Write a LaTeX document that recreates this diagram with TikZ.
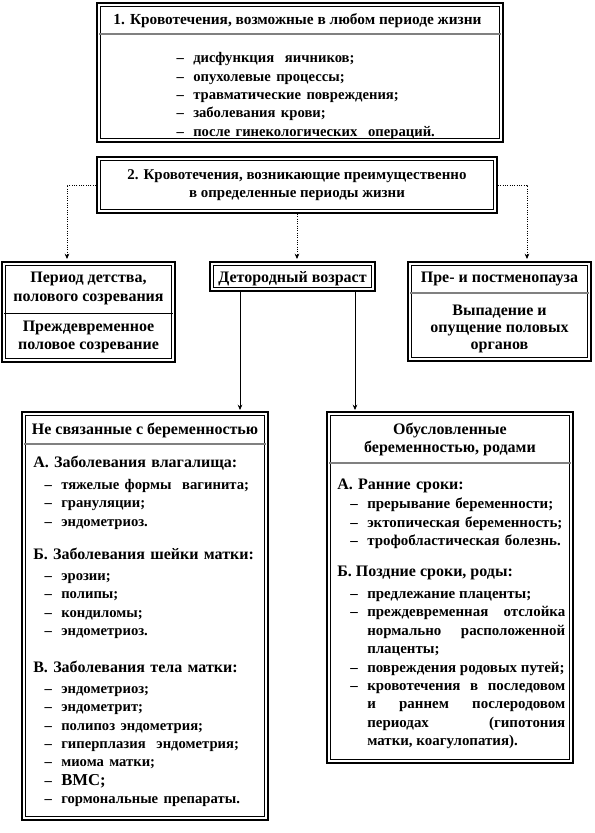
\documentclass[tikz,border=0pt]{standalone}
\usepackage{fontspec}
\setmainfont{Liberation Serif}
\usetikzlibrary{positioning,fit,arrows.meta}
\setlength{\parskip}{0pt}
\setlength{\parindent}{0pt}
\hyphenpenalty=10000
\exhyphenpenalty=10000
\tolerance=9999

\newcommand{\itemsize}{\fontsize{11}{13.8}\selectfont}
\newcommand{\headsize}{\fontsize{11.5}{13.8}\selectfont}
\newcommand{\pregsize}{\fontsize{11.2}{13.8}\selectfont}

\newenvironment{dashlist}[1]{%
  \begin{list}{--}{%
    \setlength{\leftmargin}{#1}%
    \setlength{\labelsep}{7pt}%
    \setlength{\labelwidth}{\dimexpr#1-7pt\relax}%
    \setlength{\topsep}{0pt}%
    \setlength{\partopsep}{0pt}%
    \setlength{\parsep}{0pt}%
    \setlength{\itemsep}{0pt}%
    \renewcommand{\makelabel}[1]{\strut\hfil##1}}}%
  {\end{list}}

\tikzset{
  frame/.style={draw, line width=1.5pt, inner sep=0pt,
    path picture={\draw[line width=0.6pt]
      ([shift={(2.6pt,-2.6pt)}]path picture bounding box.north west) rectangle
      ([shift={(-2.6pt,2.6pt)}]path picture bounding box.south east);}},
  graysep/.style={draw=gray, line width=1.5pt, shorten <=2.6pt, shorten >=2.6pt},
  blacksep/.style={draw, line width=0.75pt, shorten <=2.6pt, shorten >=2.6pt},
  dotarrow/.style={densely dotted, line width=0.75pt, -{Stealth[length=4pt,width=3.5pt]}},
  solarrow/.style={line width=0.6pt, -{Stealth[length=4pt,width=3.5pt]}},
  body/.style={anchor=north west, align=left},
}

\begin{document}
\begin{tikzpicture}[x=0.75pt, y=-0.75pt,
    every node/.style={font=\bfseries\fontsize{12}{13.8}\selectfont, inner sep=0pt}]
    \useasboundingbox (0,0) rectangle (594,833);

    % Any period of life
    \node[frame, fit={(97,3) (503,142)}] (all) {};
    \node[anchor=base] (allT) at (297.5,24) {\headsize 1. Кровотечения, возможные в любом периоде жизни};
    \draw[graysep] ([yshift=-24pt]all.north west) -- ([yshift=-24pt]all.north east);
    \node[body, text width=250pt] (allB) at (175,44) {\itemsize
      \begin{dashlist}{13.5pt}
        \item дисфункция\ \ яичников;
        \item опухолевые процессы;
        \item травматические повреждения;
        \item заболевания крови;
        \item после гинекологических\ \ операций.
      \end{dashlist}};

    % Certain periods of life
    \node[frame, fit={(97,157) (497,213)}] (per) {};
    \node[anchor=north, align=center, font=\bfseries\fontsize{11.2}{13.8}\selectfont] (perT) at (297,166)
      {\strut 2. Кровотечения, возникающие преимущественно\\в определенные периоды жизни};

    % Periods (middle row)
    \node[frame, fit={(2,262) (175,362)}] (child) {};
    \node[anchor=north, align=center] (childT) at (88.5,269) {\strut Период детства,\\[1pt]полового созревания};
    \draw[blacksep] ([yshift=-39pt]child.north west) -- ([yshift=-39pt]child.north east);
    \node[anchor=north, align=center] (childB) at (88.5,318) {\strut Преждевременное\\половое созревание};

    \node[frame, fit={(210,262) (375,291)}] (repr) {};
    \node[anchor=base] (reprT) at (292.5,282) {Детородный возраст};

    \node[frame, fit={(408,262) (591,361)}] (meno) {};
    \node[anchor=base] (menoT) at (499.5,282) {Пре-\ и постменопауза};
    \draw[graysep] ([yshift=-24pt]meno.north west) -- ([yshift=-24pt]meno.north east);
    \node[anchor=north, align=center] (menoB) at (499.5,302) {\strut Выпадение и\\[-1pt]опущение половых\\[-1pt]органов};

    % Not related to pregnancy
    \node[frame, fit={(22,412) (268,820)}] (nopreg) {};
    \node[anchor=base] (nopregT) at (145,434) {Не связанные с беременностью};
    \draw[graysep] ([yshift=-24.75pt]nopreg.north west) -- ([yshift=-24.75pt]nopreg.north east);
    \node[body, text width=170pt] (grA) at (33,454) {%
      \strut А. Заболевания влагалища:\par\vspace{3pt}\itemsize
      \begin{dashlist}{21pt}
        \item тяжелые формы\ \ вагинита;
        \item грануляции;
        \item эндометриоз.
      \end{dashlist}};
    \node[body, text width=170pt] (grB) at (33,546) {%
      \strut Б. Заболевания шейки матки:\par\vspace{2pt}\itemsize
      \begin{dashlist}{21pt}
        \item эрозии;
        \item полипы;
        \item кондиломы;
        \item эндометриоз.
      \end{dashlist}};
    \node[body, text width=170pt] (grC) at (33,659) {%
      \strut В. Заболевания тела матки:\par\vspace{2pt}\itemsize
      \begin{dashlist}{21pt}
        \item эндометриоз;
        \item эндометрит;
        \item полипоз эндометрия;
        \item гиперплазия\ \ эндометрия;
        \item миома матки;
        \item {\fontsize{12.5}{13.8}\selectfont ВМС;}
        \item гормональные препараты.
      \end{dashlist}};

    % Caused by pregnancy and labour
    \node[frame, fit={(327,412) (573,763)}] (preg) {};
    \node[anchor=north, align=center] (pregT) at (450,421) {\strut Обусловленные\\беременностью, родами};
    \draw[graysep] ([yshift=-39pt]preg.north west) -- ([yshift=-39pt]preg.north east);
    \node[body, text width=171pt] (early) at (337,476) {%
      \strut А. Ранние сроки:\par\vspace{1pt}\pregsize
      \begin{dashlist}{22.5pt}
        \item \mbox{прерывание беременности;}
        \item \mbox{эктопическая беременность;}
        \item \mbox{трофобластическая болезнь.}
      \end{dashlist}};
    \node[body, text width=171pt, align=justify] (late) at (337,563) {%
      \strut Б. Поздние сроки, роды:\par\vspace{3pt}\pregsize
      \begin{dashlist}{22.5pt}
        \item \mbox{предлежание плаценты;}
        \item преждевременная отслойка\linebreak нормально расположенной\linebreak плаценты;
        \item \mbox{повреждения родовых путей;}
        \item кровотечения в последовом\linebreak и раннем послеродовом\linebreak периодах (гипотония\linebreak матки, коагулопатия).
      \end{dashlist}};

    % Dotted connectors
    \coordinate (toChild) at (67,259);
    \coordinate (toRepr) at (297,259);
    \coordinate (toMeno) at (527,259);
    \draw[dotarrow] (per.west) -| (toChild);
    \draw[dotarrow] (per.south) -- (toRepr);
    \draw[dotarrow] (per.east) -| (toMeno);

    % Solid connectors
    \coordinate (toNo) at (240,410);
    \coordinate (toPreg) at (355,410);
    \draw[solarrow] (repr.south -| toNo) -- (toNo);
    \draw[solarrow] (repr.south -| toPreg) -- (toPreg);
\end{tikzpicture}
\end{document}
